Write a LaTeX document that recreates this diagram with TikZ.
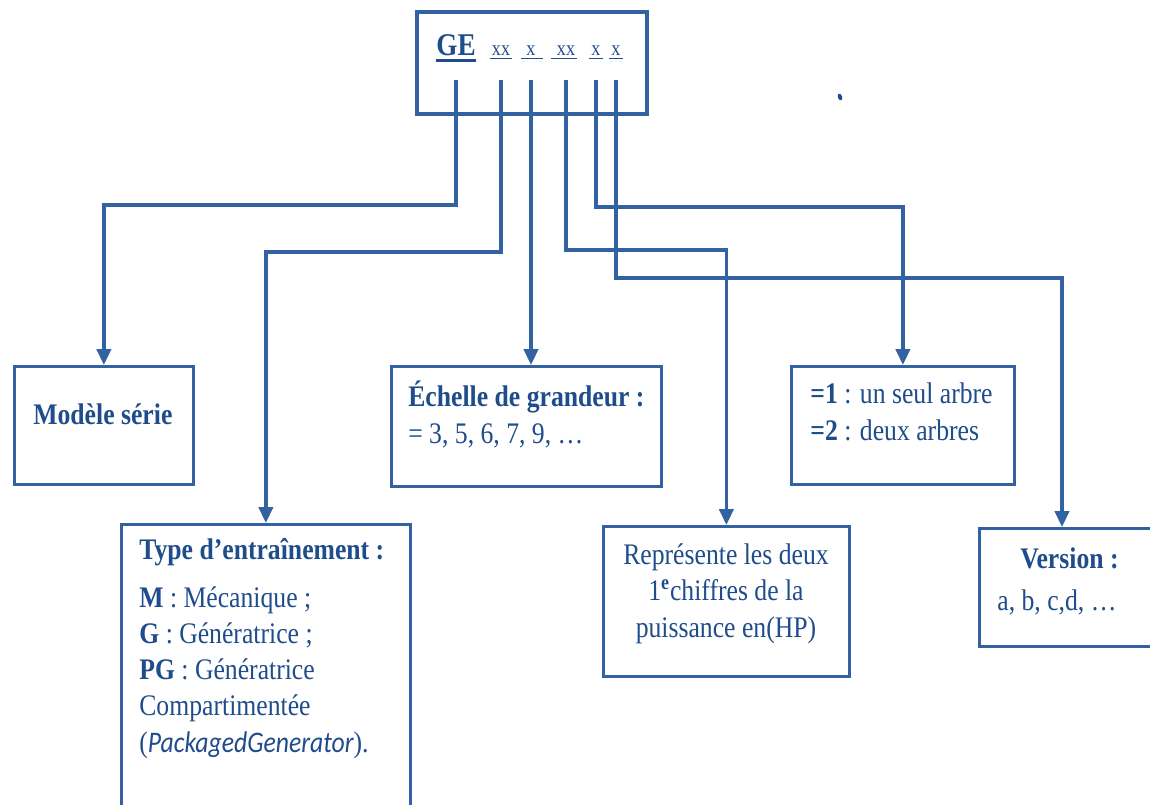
\documentclass[tikz,border=0pt]{standalone}
\usepackage{fontspec}
\setmainfont{Liberation Serif}[FakeStretch=0.86]
\newfontfamily\calibfont{Carlito}[FakeStretch=0.86]
\usepackage{tikz}
\definecolor{SchemaBlue}{HTML}{3262A2}
\definecolor{InkBlue}{HTML}{1F4C8B}
\usetikzlibrary{arrows.meta}
\usetikzlibrary{positioning}

\begin{document}
\begin{tikzpicture}[x=0.02cm, y=-0.02cm,
    font=\fontsize{17}{20.5}\selectfont,
    box/.style={shape=rectangle, draw=SchemaBlue, line width=1.6pt,
      anchor=north west, inner sep=0pt},
    txt/.style={text=InkBlue, inner sep=0pt, align=left, anchor=base west},
    codepart/.style={text=InkBlue, inner sep=0pt, anchor=base,
      font=\fontsize{12}{14}\selectfont},
    uline/.style={draw=InkBlue, line width=1pt},
    link/.style={draw=SchemaBlue, line width=2pt,
      -{Triangle[width=8pt,length=9pt]}}]

    \path[use as bounding box] (0,0) rectangle (1150,805);

    % code box
    \node[name=code, box, line width=2.4pt,
      minimum width=4.6cm, minimum height=2.04cm] at (415,10) {};

    \node[name=ge, codepart, font=\fontsize{18}{20}\bfseries] at (456,55) {GE};
    \node[name=ca, codepart] at (501,55) {xx};
    \node[name=cb, codepart] at (531,55) {x};
    \node[name=cc, codepart] at (566,55) {xx};
    \node[name=cd, codepart] at (596,55) {x};
    \node[name=ce, codepart] at (616,55) {x};

    \draw[uline, line width=1.8pt] ([yshift=-3pt]ge.base west) -- ([yshift=-3pt]ge.base east);
    \draw[uline] ([yshift=-2pt,xshift=-1pt]ca.base west) -- ([yshift=-2pt,xshift=1pt]ca.base east);
    \draw[uline] ([yshift=-2pt,xshift=-3pt]cb.base west) -- ([yshift=-2pt,xshift=4pt]cb.base east);
    \draw[uline] ([yshift=-2pt,xshift=-3pt]cc.base west) -- ([yshift=-2pt,xshift=1pt]cc.base east);
    \draw[uline] ([yshift=-2pt,xshift=-1pt]cd.base west) -- ([yshift=-2pt,xshift=1pt]cd.base east);
    \draw[uline] ([yshift=-2pt,xshift=-1pt]ce.base west) -- ([yshift=-2pt,xshift=1pt]ce.base east);

    % target boxes
    \node[name=modele, box, minimum width=3.58cm, minimum height=2.36cm] at (13,365) {};
    \node[name=type, box, minimum width=5.78cm, minimum height=6cm] at (120,523) {};
    \node[name=echelle, box, minimum width=5.4cm, minimum height=2.4cm] at (390,365) {};
    \node[name=repr, box, minimum width=4.92cm, minimum height=3cm] at (602,525) {};
    \node[name=arbre, box, minimum width=4.46cm, minimum height=2.36cm] at (790,365) {};
    \node[name=version, box, minimum width=3.7cm, minimum height=2.36cm] at (978,527) {};

    \node[name=modeletxt, txt] at (33,424) {\textbf{Modèle série}};
    \node[name=typetxt, txt] at (139,752) {\textbf{Type d’entraînement :}\\[7pt]
      \textbf{M} : Mécanique ;\\
      \textbf{G} : Génératrice ;\\
      \textbf{PG} : Génératrice\\
      Compartimentée\\
      ({\calibfont\itshape PackagedGenerator}).};
    \node[name=echelletxt, txt] at (408,443) {\textbf{Échelle de grandeur :}\\
      = 3, 5, 6, 7, 9, …};
    \node[name=reprtxt, txt, align=center, anchor=base] at (726,637) {Représente les deux\\
      1\textsuperscript{\textbf{e}}chiffres de la\\
      puissance en(HP)};
    \node[name=arbretxt, txt] at (810,440) {\textbf{=1} : un seul arbre\\
      \textbf{=2} : deux arbres};
    \node[name=versiontxt, txt] at (997,610) {\hspace*{0.46cm}\textbf{Version :}\\[3pt]
      a, b, c,d, …};

    % rows and columns of the connectors
    \coordinate (stubtop) at (0,80);
    \coordinate (rowa) at (0,205);
    \coordinate (rowb) at (0,252);
    \coordinate (rowc) at (0,250);
    \coordinate (rowd) at (0,207);
    \coordinate (rowe) at (0,278);
    \coordinate (vcol) at (1062,0);

    \draw[link] (ge |- stubtop) -- (ge |- rowa) -| (modele.north);
    \draw[link] (ca |- stubtop) -- (ca |- rowb) -| (type.north);
    \draw[link] (cb |- stubtop) -- (cb |- echelle.north);
    \draw[link] (cc |- stubtop) -- (cc |- rowc) -| (repr.north);
    \draw[link] (cd |- stubtop) -- (cd |- rowd) -| (arbre.north);
    \draw[link] (ce |- stubtop) -- (ce |- rowe) -| (vcol |- version.north);

    \fill[InkBlue, rotate around={20:(840,97)}] (840,97) ellipse (1.2pt and 2pt);
\end{tikzpicture}
\end{document}
